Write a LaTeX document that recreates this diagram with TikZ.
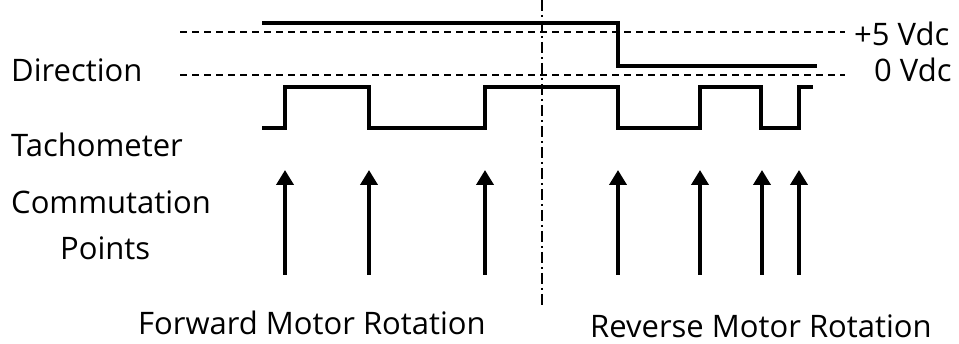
\documentclass[tikz,border=0pt]{standalone}
\usepackage{fontspec}
\setmainfont{Open Sans}
\usetikzlibrary{arrows.meta}
\newcommand{\lbl}{\fontsize{31}{33}\selectfont}

\begin{document}
\begin{tikzpicture}[x=1pt,y=-1pt,
   sig/.style={line width=4.2pt},
   lvl/.style={line width=1.4pt, dash pattern=on 7pt off 5pt},
   mid/.style={line width=1.4pt, dash pattern=on 11pt off 4pt on 2pt off 4pt},
   tick/.style={line width=4.2pt, -{Triangle[width=17pt,length=15pt]}},
   txt/.style={anchor=base west, inner sep=0pt, font=\lbl}]
   \useasboundingbox (0,0) rectangle (959,344);
   \draw[lvl] (180, 32) -- (845, 32);
   \draw[lvl] (180, 75) -- (845, 75);
   \draw[mid] (542,  0) -- (542,308);
   \draw[sig] (262, 23) -- (618, 23) -- (618, 66) -- (817, 66);
   \draw[sig] (262,128) -- (285,128) -- (285, 87) -- (369, 87) -- (369,128)
           -- (485,128) -- (485, 87) -- (618, 87) -- (618,128)
           -- (700,128) -- (700, 87) -- (761, 87) -- (761,128)
           -- (799,128) -- (799, 87) -- (813, 87);
   \foreach \n/\x in {a/285, b/369, c/485, d/618, e/700, f/762, g/799} {
      \coordinate (\n0) at (\x,275);
      \coordinate (\n1) at (\x,170);
      \draw[tick] (\n0) -- (\n1);
   }
   \node[txt] (dir) at ( 11, 82) {Direction};
   \node[txt] (tach) at ( 11,157) {Tachometer};
   \node[txt] (comm) at ( 11,214) {Commutation};
   \node[txt] (pts) at ( 60,260) {Points};
   \node[txt] (fwd) at (138,335) {Forward Motor Rotation};
   \node[txt] (rev) at (590,338) {Reverse Motor Rotation};
   \node[txt] (hi) at (854, 46) {+5 Vdc};
   \node[txt] (lo) at (874, 82) {0 Vdc};
\end{tikzpicture}
\end{document}
